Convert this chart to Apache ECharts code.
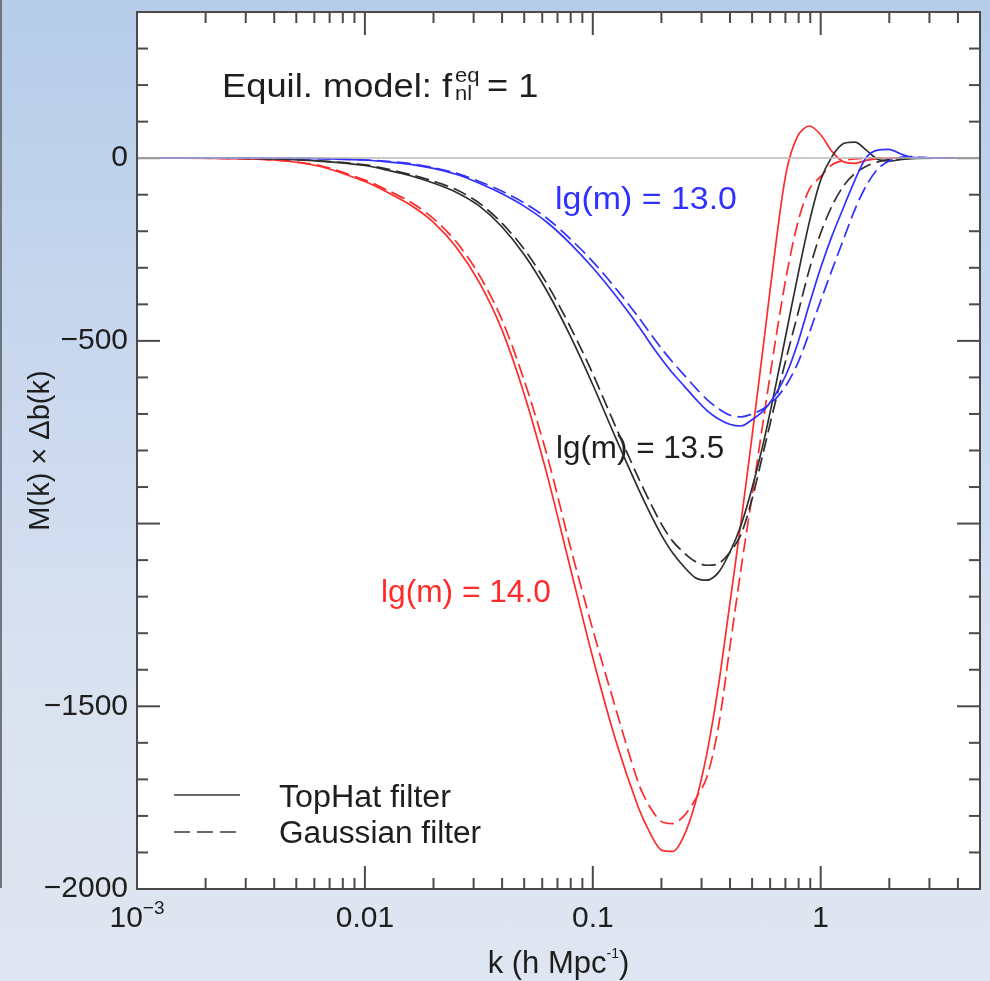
<!DOCTYPE html>
<html>
<head>
<meta charset="utf-8">
<script src="https://cdn.jsdelivr.net/npm/echarts@6/dist/echarts.min.js"></script>
<style>
  html, body { margin: 0; padding: 0; }
  body {
    width: 990px;
    height: 981px;
    background: linear-gradient(to bottom, #b6cce9 0%, #cad9ee 40%, #dbe3f0 75%, #dfe6f1 100%);
  }
  #chart { width: 990px; height: 981px; }
</style>
</head>
<body>
<div id="chart"></div>
<script>
  const fontFamily = '"Liberation Sans", Arial, Helvetica, sans-serif';

  // k (h/Mpc) sample points shared by all curves
  const kValues = [0.001, 0.001585, 0.002512, 0.003981, 0.00631,
    0.01, 0.01259, 0.01585, 0.01995, 0.02512,
    0.03162, 0.03981, 0.05012, 0.0631, 0.07943,
    0.1, 0.1259, 0.1585, 0.1778, 0.1995,
    0.2239, 0.2512, 0.2818, 0.3162, 0.3548,
    0.3981, 0.4467, 0.5012, 0.5623, 0.631,
    0.7079, 0.7943, 0.8913, 1, 1.122,
    1.259, 1.413, 1.585, 1.778, 1.995,
    2.239, 2.512, 3.162, 3.981, 5];

  // lg(m) = 14.0
  const redTopHat = [0, 0, -1, -5, -22,
    -64, -94, -128, -175, -243,
    -338, -468, -648, -868, -1118,
    -1367, -1592, -1777, -1845, -1893,
    -1897, -1854, -1764, -1631, -1449,
    -1225, -997, -755, -505, -250,
    -35, 62, 88, 64, 18,
    -10, -14, -6, -1, 0,
    0, 0, 0, 0, 0];
  const redGaussian = [0, 0, -1, -5, -20,
    -60, -88, -120, -165, -228,
    -318, -440, -610, -815, -1060,
    -1290, -1505, -1710, -1775, -1815,
    -1821, -1800, -1755, -1695, -1560,
    -1345, -1125, -920, -710, -505,
    -320, -175, -85, -50, -18,
    -6, -2, 0, 0, 0,
    0, 0, 0, 0, 0];

  // lg(m) = 13.5
  const blackTopHat = [0, 0, 0, -2, -8,
    -20, -33, -48, -68, -93,
    -130, -187, -265, -365, -485,
    -620, -765, -905, -970, -1030,
    -1080, -1118, -1148, -1155, -1135,
    -1080, -1005, -900, -775, -630,
    -475, -320, -175, -60, 5,
    40, 44, 22, -3, -8,
    -4, -1, 0, 0, 0];
  const blackGaussian = [0, 0, 0, -2, -7,
    -18, -30, -45, -63, -86,
    -122, -177, -250, -345, -460,
    -590, -735, -875, -940, -1000,
    -1048, -1080, -1104, -1114, -1110,
    -1080, -1030, -930, -800, -670,
    -545, -425, -305, -205, -130,
    -76, -42, -22, -10, -4,
    -1, 0, 0, 0, 0];

  // lg(m) = 13.0
  const blueTopHat = [0, 0, 0, 0, -1,
    -5, -10, -17, -28, -44,
    -68, -97, -132, -176, -233,
    -300, -376, -459, -505, -548,
    -588, -623, -658, -690, -713,
    -728, -733, -715, -690, -648,
    -590, -505, -400, -300, -212,
    -135, -60, 2, 22, 24,
    12, 2, 0, 0, 0];
  const blueGaussian = [0, 0, 0, 0, -1,
    -5, -9, -15, -26, -41,
    -63, -90, -123, -165, -220,
    -283, -356, -435, -478, -520,
    -558, -593, -628, -660, -685,
    -703, -708, -700, -685, -660,
    -620, -560, -478, -390, -305,
    -222, -140, -75, -30, -8,
    2, 4, 0, 0, 0];

  const xTickValues = [0.001, 0.01, 0.1, 1];
  const xTickLabels = ['{b|10}{s|\u22123}', '{b|0.01}', '{b|0.1}', '{b|1}'];
  const yTickValues = [0, -500, -1500, -2000];
  const yTickLabels = ['0', '\u2212500', '\u22121500', '\u22122000'];
  const yMajorTicks = [-2000, -1500, -1000, -500, 0];

  const xMin = 0.001, xMax = 5;
  const yMin = -2000, yMax = 400;

  const axisColor = '#4a4a4a';
  const red = '#ff2b2b';
  const black = '#2e2e2e';
  const blue = '#3030ff';

  // tick marks as [x, y, kind] with kind 0 = on the x axes, 1 = on the y axes
  const majorTicks = xTickValues.map((d) => [d, 0, 0])
    .concat(yMajorTicks.map((v) => [1, v, 1]));
  const minorTicks = [];
  xTickValues.forEach((d) => {
    for (let m = 2; m <= 9; m++) {
      if (d * m < xMax) minorTicks.push([d * m, 0, 0]);
    }
  });
  for (let v = yMin + 100; v < yMax; v += 100) {
    if (!yMajorTicks.includes(v)) minorTicks.push([1, v, 1]);
  }

  const chart = echarts.init(document.getElementById('chart'));

  const tickSeries = (data, len) => ({
    type: 'custom',
    silent: true,
    clip: false,
    z: 4,
    data,
    renderItem: (params, api) => {
      const cs = params.coordSys;
      const style = { stroke: axisColor, lineWidth: 2 };
      if (api.value(2) === 0) {
        const x = api.coord([api.value(0), 0])[0];
        const b = cs.y + cs.height;
        const t = cs.y;
        return {
          type: 'group',
          children: [
            { type: 'line', shape: { x1: x, y1: b, x2: x, y2: b - len }, style },
            { type: 'line', shape: { x1: x, y1: t, x2: x, y2: t + len }, style },
          ],
        };
      }
      const y = api.coord([1, api.value(1)])[1];
      const l = cs.x;
      const r = cs.x + cs.width;
      return {
        type: 'group',
        children: [
          { type: 'line', shape: { x1: l, y1: y, x2: l + len, y2: y }, style },
          { type: 'line', shape: { x1: r, y1: y, x2: r - len, y2: y }, style },
        ],
      };
    },
  });

  const lineSeries = (name, vals, color, dashed) => ({
    name,
    type: 'line',
    data: kValues.map((k, i) => [k, vals[i]]),
    showSymbol: false,
    symbol: 'none',
    smooth: 0.3,
    z: 3,
    lineStyle: { color, width: 1.7, type: dashed ? [14, 6] : 'solid' },
  });

  const xAxisBase = {
    type: 'log',
    logBase: 10,
    min: xMin,
    max: xMax,
    z: 5,
    axisLine: { show: true, onZero: false, lineStyle: { color: axisColor, width: 2 } },
    axisTick: { show: false },
    splitLine: { show: false },
    minorTick: { show: false },
  };
  const yAxisBase = {
    type: 'value',
    min: yMin,
    max: yMax,
    interval: 500,
    z: 5,
    axisLine: { show: true, onZero: false, lineStyle: { color: axisColor, width: 2 } },
    axisTick: { show: false },
    splitLine: { show: false },
  };

  const text = (x, y, str, size, fill, sx) => ({
    type: 'text',
    x,
    y,
    scaleX: sx || 1,
    silent: true,
    style: { text: str, fontSize: size, fontFamily, fill, align: 'left', verticalAlign: 'middle' },
  });

  const option = {
    animation: false,
    backgroundColor: 'transparent',
    grid: {
      left: 137, right: 10, top: 12, bottom: 92,
      show: true, backgroundColor: '#ffffff', borderWidth: 0,
      outerBoundsMode: 'none',
    },
    xAxis: [
      {
        ...xAxisBase,
        position: 'bottom',
        axisLabel: {
          margin: 10,
          color: '#1e1e1e',
          formatter: (v) => {
            const i = xTickValues.findIndex((t) => Math.abs(Math.log10(v) - Math.log10(t)) < 1e-6);
            return i >= 0 ? xTickLabels[i] : '';
          },
          rich: {
            b: { fontSize: 30, fontFamily, color: '#1e1e1e', lineHeight: 40 },
            s: { fontSize: 19, fontFamily, color: '#1e1e1e', padding: [0, 0, 20, 0] },
          },
        },
        name: '{a|k (h Mpc}{s|-1}{a|)}',
        nameLocation: 'middle',
        nameGap: 56,
        nameTextStyle: {
          rich: {
            a: { fontSize: 31, fontFamily, color: '#1e1e1e', lineHeight: 38 },
            s: { fontSize: 14, fontFamily, color: '#1e1e1e', padding: [0, 0, 20, 0] },
          },
        },
      },
      {
        ...xAxisBase,
        position: 'top',
        axisLabel: { show: false },
      },
    ],
    yAxis: [
      {
        ...yAxisBase,
        position: 'left',
        axisLabel: {
          margin: 9,
          fontSize: 30,
          fontFamily,
          color: '#1e1e1e',
          formatter: (v) => {
            const i = yTickValues.indexOf(v);
            return i >= 0 ? yTickLabels[i] : '';
          },
        },
        name: 'M(k) \u00d7 \u0394b(k)',
        nameLocation: 'middle',
        nameRotate: 90,
        nameGap: 82,
        nameMoveOverlap: false,
        nameTextStyle: { fontSize: 29, fontFamily, color: '#1e1e1e' },
      },
      {
        ...yAxisBase,
        position: 'right',
        axisLabel: { show: false },
      },
    ],
    series: [
      tickSeries(majorTicks, 23),
      tickSeries(minorTicks, 11),
      {
        type: 'line',
        data: [],
        silent: true,
        z: 1,
        markLine: {
          silent: true,
          symbol: 'none',
          label: { show: false },
          lineStyle: { color: '#b8b8b8', width: 1.5, type: 'solid' },
          data: [{ yAxis: 0 }],
        },
      },
      lineSeries('lg(m) = 14.0 TopHat', redTopHat, red, false),
      lineSeries('lg(m) = 14.0 Gaussian', redGaussian, red, true),
      lineSeries('lg(m) = 13.5 TopHat', blackTopHat, black, false),
      lineSeries('lg(m) = 13.5 Gaussian', blackGaussian, black, true),
      lineSeries('lg(m) = 13.0 TopHat', blueTopHat, blue, false),
      lineSeries('lg(m) = 13.0 Gaussian', blueGaussian, blue, true),
    ],
    graphic: [
      // slide edge on the far left
      { type: 'line', silent: true, shape: { x1: 1, y1: 0, x2: 1, y2: 888 }, style: { stroke: '#6f7680', lineWidth: 2 } },
      // panel title
      text(222, 88, 'Equil. model: f', 33, '#1e1e1e', 1.1),
      text(455, 76, 'eq', 21, '#1e1e1e', 1.05),
      text(455, 94, 'nl', 21, '#1e1e1e', 1.05),
      text(487, 88, '= 1', 33, '#1e1e1e', 1.1),
      // curve labels
      text(555, 200, 'lg(m) = 13.0', 32, blue, 1.06),
      text(556, 449, 'lg(m) = 13.5', 32, '#1e1e1e', 0.98),
      text(381, 593, 'lg(m) = 14.0', 32, red, 0.99),
      // filter legend
      { type: 'line', silent: true, shape: { x1: 174, y1: 795, x2: 240, y2: 795 }, style: { stroke: '#3a3a3a', lineWidth: 1.6 } },
      { type: 'line', silent: true, shape: { x1: 174, y1: 832, x2: 240, y2: 832 }, style: { stroke: '#3a3a3a', lineWidth: 1.6, lineDash: [16, 7] } },
      text(279, 798, 'TopHat filter', 31, '#1e1e1e', 1.04),
      text(279, 834, 'Gaussian filter', 31, '#1e1e1e', 1.02),
    ],
  };

  option && chart.setOption(option);

  window.addEventListener('resize', function() {
    chart.resize();
  });
</script>
</body>
</html>
